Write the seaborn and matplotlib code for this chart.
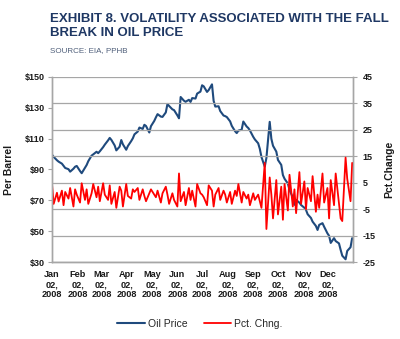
import numpy as np
import pandas as pd
import matplotlib
matplotlib.use("Agg")
import matplotlib.pyplot as plt
import seaborn as sns

# ---- data ----
dates = pd.bdate_range("2008-01-02", "2008-12-31")[::2]

oil_price = [
    99.6, 98.2, 96.0, 95.1, 93.8, 92.4, 91.0, 90.2, 88.6, 90.5,
    91.8, 92.3, 89.0, 87.6, 91.2, 92.9, 95.4, 99.0, 99.8, 101.5,
    100.6, 101.8, 104.5, 106.1, 108.9, 110.5, 109.2, 105.6, 102.4, 104.8,
    109.1, 106.3, 102.8, 105.2, 108.4, 110.2, 112.8, 114.6, 117.2, 116.3,
    119.0, 118.2, 114.0, 118.1, 121.5, 123.8, 125.9, 124.3, 124.1, 127.0,
    132.5, 131.2, 129.0, 128.5, 125.1, 123.2, 137.0, 134.6, 133.9, 135.2,
    133.8, 136.3, 136.0, 139.2, 140.5, 144.6, 143.9, 140.3, 141.5, 145.2,
    134.5, 130.8, 131.0, 127.9, 125.0, 124.6, 124.0, 121.2, 118.3, 114.8,
    113.6, 115.2, 115.8, 121.1, 117.9, 116.9, 115.3, 111.2, 109.5, 107.0,
    103.4, 98.1, 91.8, 97.5, 120.9, 109.9, 105.4, 101.6, 96.2, 93.0,
    86.4, 84.0, 80.9, 76.8, 71.9, 67.1, 70.3, 68.5, 67.0, 65.2,
    63.8, 61.0, 58.6, 56.2, 53.4, 50.8, 54.1, 55.2, 52.9, 48.6,
    47.0, 42.4, 45.5, 43.6, 42.1, 37.9, 34.1, 31.8, 37.2, 39.6,
    45.5,
]

pct_change = [
    4.5, -3.0, 1.2, -2.1, 2.0, -3.5, 1.5, -1.0, 3.0, -4.0,
    2.5, 0.5, -2.5, 4.8, -1.5, 2.5, -3.0, 1.0, 4.5, -0.5,
    3.5, -2.0, 4.8, 0.5, -1.5, 4.0, -3.0, 1.5, -4.5, 3.5,
    2.0, -4.0, 4.5, 0.0, -1.0, 2.5, 1.5, 3.0, -1.5, 2.5,
    0.0, -2.0, 1.0, 2.5, 0.5, -0.5, 2.0, -2.5, 1.0, 3.5,
    0.5, -3.0, 1.0, -1.5, -4.0, 8.5, -2.0, 1.5, -3.5, 3.0,
    -1.5, 2.0, -4.0, 4.5, 1.0, 0.5, -0.5, -3.5, 4.0, 2.0,
    -4.0, 0.5, 3.0, -1.5, 2.0, 0.5, -2.5, 1.5, -3.0, 2.0,
    0.0, 4.5, -2.5, 1.5, -1.0, 0.5, -3.5, 1.0, -1.5, 0.5,
    -2.0, -4.5, 12.5, -12.5, 7.0, 0.5, -8.5, 6.0, -7.0, 3.5,
    -9.0, 4.5, -5.5, 8.0, -4.0, 2.5, -6.5, 9.0, -3.0, 5.5,
    -5.0, 3.0, -2.0, 7.5, -6.0, 0.5, -4.5, 8.5, -2.5, 3.0,
    -8.5, 6.0, -3.5, 8.5, -3.0, -8.5, -9.5, 14.5, 6.5, -2.0,
    12.5,
]

left_ticks = [30, 50, 70, 90, 110, 130, 150]
right_ticks = [-25, -15, -5, 5, 15, 25, 35, 45]
month_ticks = pd.date_range("2008-01-01", periods=12, freq="MS") + pd.Timedelta(days=1)

df = pd.DataFrame({"date": dates, "oil": oil_price, "pct": pct_change})

# ---- style ----
sns.set_style("white")
plt.rcParams["font.family"] = ["Liberation Sans", "DejaVu Sans"]

NAVY = "#1F4A7D"
RED = "#FF0000"
GRID = "#A6A6A6"
TXT = "#1A1A1A"

fig = plt.figure(figsize=(4.0, 3.39), dpi=100)
ax = fig.add_axes([0.13, 0.227, 0.7525, 0.546])
ax2 = ax.twinx()

sns.lineplot(data=df, x="date", y="oil", ax=ax, color=NAVY, linewidth=1.5,
             label="Oil Price", legend=False)
sns.lineplot(data=df, x="date", y="pct", ax=ax2, color=RED, linewidth=1.3,
             label="Pct. Chng.", legend=False)

ax.set_xlim(pd.Timestamp("2008-01-02"), pd.Timestamp("2009-01-01"))
ax.set_ylim(30, 150)
ax2.set_ylim(-25, 45)

ax.set_yticks(left_ticks)
ax.set_yticklabels([f"${v}" for v in left_ticks], fontsize=6.5,
                   fontweight="bold", color=TXT)
ax2.set_yticks(right_ticks)
ax2.set_yticklabels([str(v) for v in right_ticks], fontsize=6.5,
                    fontweight="bold", color=TXT)
ax2.grid(axis="y", color=GRID, linewidth=0.9)
ax2.set_axisbelow(True)

ax.set_xticks(month_ticks)
ax.set_xticklabels([d.strftime("%b\n%d,\n%Y") for d in month_ticks],
                   fontsize=6.6, fontweight="bold", color=TXT,
                   linespacing=1.15)

for a in (ax, ax2):
    for s in a.spines.values():
        s.set_color(GRID)
        s.set_linewidth(1.0)
    a.spines["top"].set_visible(False)
ax.tick_params(axis="x", direction="out", length=3, color=GRID, pad=3)
ax.tick_params(axis="y", direction="out", length=3, color=GRID, pad=2)
ax2.tick_params(axis="y", direction="out", length=3, color=GRID, pad=4)

ax.set_xlabel("")
ax.set_ylabel("Per Barrel", fontsize=7.5, fontweight="bold", color=TXT,
              labelpad=8)
ax2.set_ylabel("Pct.Change", fontsize=7.5, fontweight="bold", color=TXT,
               labelpad=6)

fig.text(0.125, 0.962, "EXHIBIT 8. VOLATILITY ASSOCIATED WITH THE FALL\nBREAK IN OIL PRICE",
         fontsize=9.5, fontweight="bold", color="#1F3864", va="top",
         linespacing=1.25)
fig.text(0.125, 0.862, "SOURCE: EIA, PPHB", fontsize=5.8, color="#4F5F7A",
         va="top")

h1, l1 = ax.get_legend_handles_labels()
h2, l2 = ax2.get_legend_handles_labels()
fig.legend(h1 + h2, l1 + l2, loc="center", bbox_to_anchor=(0.5, 0.045),
           ncol=2, frameon=False, fontsize=7.5, handlelength=2.6,
           columnspacing=1.6, handletextpad=0.3)

fig.savefig("out.png", dpi=100)
